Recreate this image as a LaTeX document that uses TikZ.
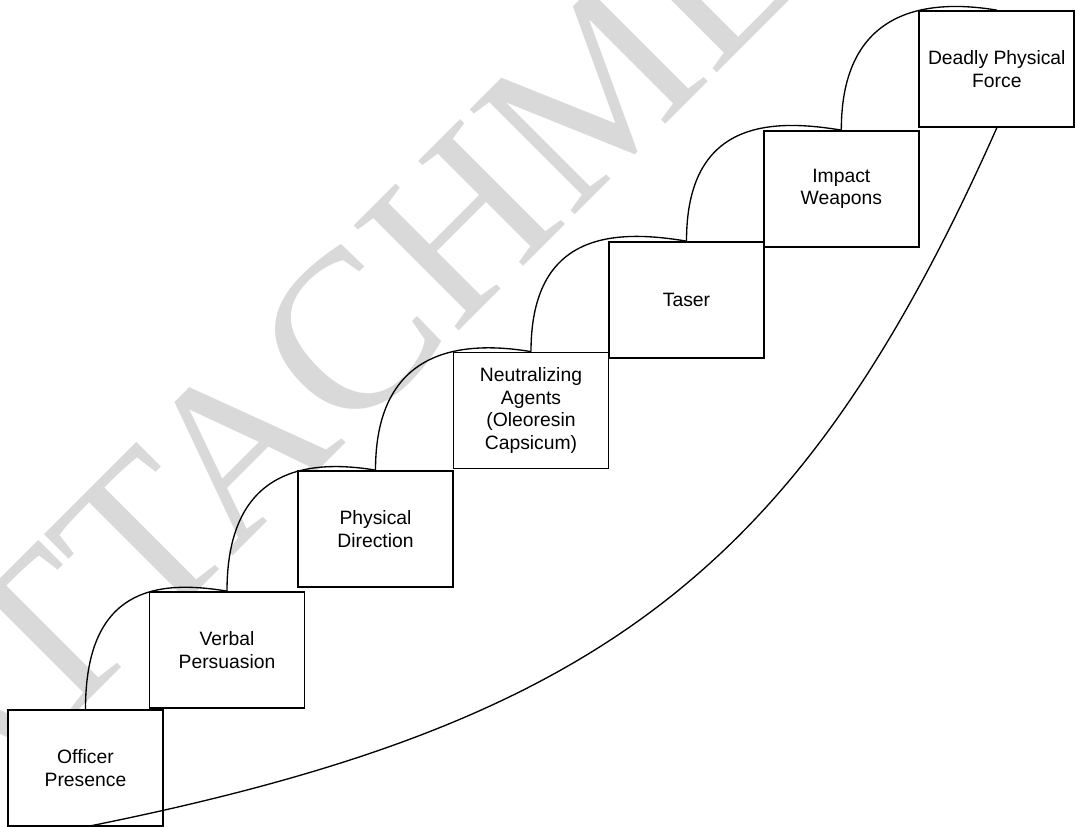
\documentclass[tikz,border=0pt]{standalone}
\usepackage{fontspec}
\setmainfont{Liberation Sans}
\newfontfamily\markfont{Liberation Serif}
\usepackage{xcolor}
\usepackage{tikz}
\usetikzlibrary{positioning}
\tikzset{
  stair_box/.style={
    draw, rectangle, fill=white, line width=1.3pt,
    minimum width=116.25pt, minimum height=87pt, inner sep=2pt,
    align=center, font=\fontsize{14.5pt}{17pt}\selectfont
  },
  stair_arc/.style={line width=1pt},
  stair_mark/.style={
    text=black!15, rotate=45, inner sep=0pt,
    font=\markfont\fontsize{170pt}{170pt}\selectfont
  },
}

\begin{document}
\begin{tikzpicture}[x=0.75pt, y=-0.75pt]
\useasboundingbox (0,0) rectangle (1076,827);

% Watermark behind the steps
\node[stair_mark] (mark) at (435,250) {ATTACHMENT};

% Steps, bottom to top
\node[stair_box] (presence) at (85.5,768)  {Officer\\Presence};
\node[stair_box] (verbal)   at (227,650)   {Verbal\\Persuasion};
\node[stair_box] (physdir)  at (375.5,529) {Physical\\Direction};
\node[stair_box] (neutral)  at (531,410.5) {Neutralizing\\Agents\\(Oleoresin\\Capsicum)};
\node[stair_box] (taser)    at (686.5,300) {Taser};
\node[stair_box] (impact)   at (841.3,189) {Impact\\Weapons};
\node[stair_box] (deadly)   at (996.8,69)  {Deadly Physical\\Force};

% Arcs from step to step
\draw[stair_arc] (presence.north) .. controls +(0,-120) and +(-72,-12) .. (verbal.north);
\draw[stair_arc] (verbal.north)   .. controls +(0,-120) and +(-72,-12) .. (physdir.north);
\draw[stair_arc] (physdir.north)  .. controls +(0,-120) and +(-72,-12) .. (neutral.north);
\draw[stair_arc] (neutral.north)  .. controls +(0,-120) and +(-72,-12) .. (taser.north);
\draw[stair_arc] (taser.north)    .. controls +(0,-120) and +(-72,-12) .. (impact.north);
\draw[stair_arc] (impact.north)   .. controls +(0,-120) and +(-72,-12) .. (deadly.north);

% Long sweep underneath
\draw[stair_arc] (presence.south) .. controls +(514,-103) and +(-197,443) .. (deadly.south);

\end{tikzpicture}
\end{document}
